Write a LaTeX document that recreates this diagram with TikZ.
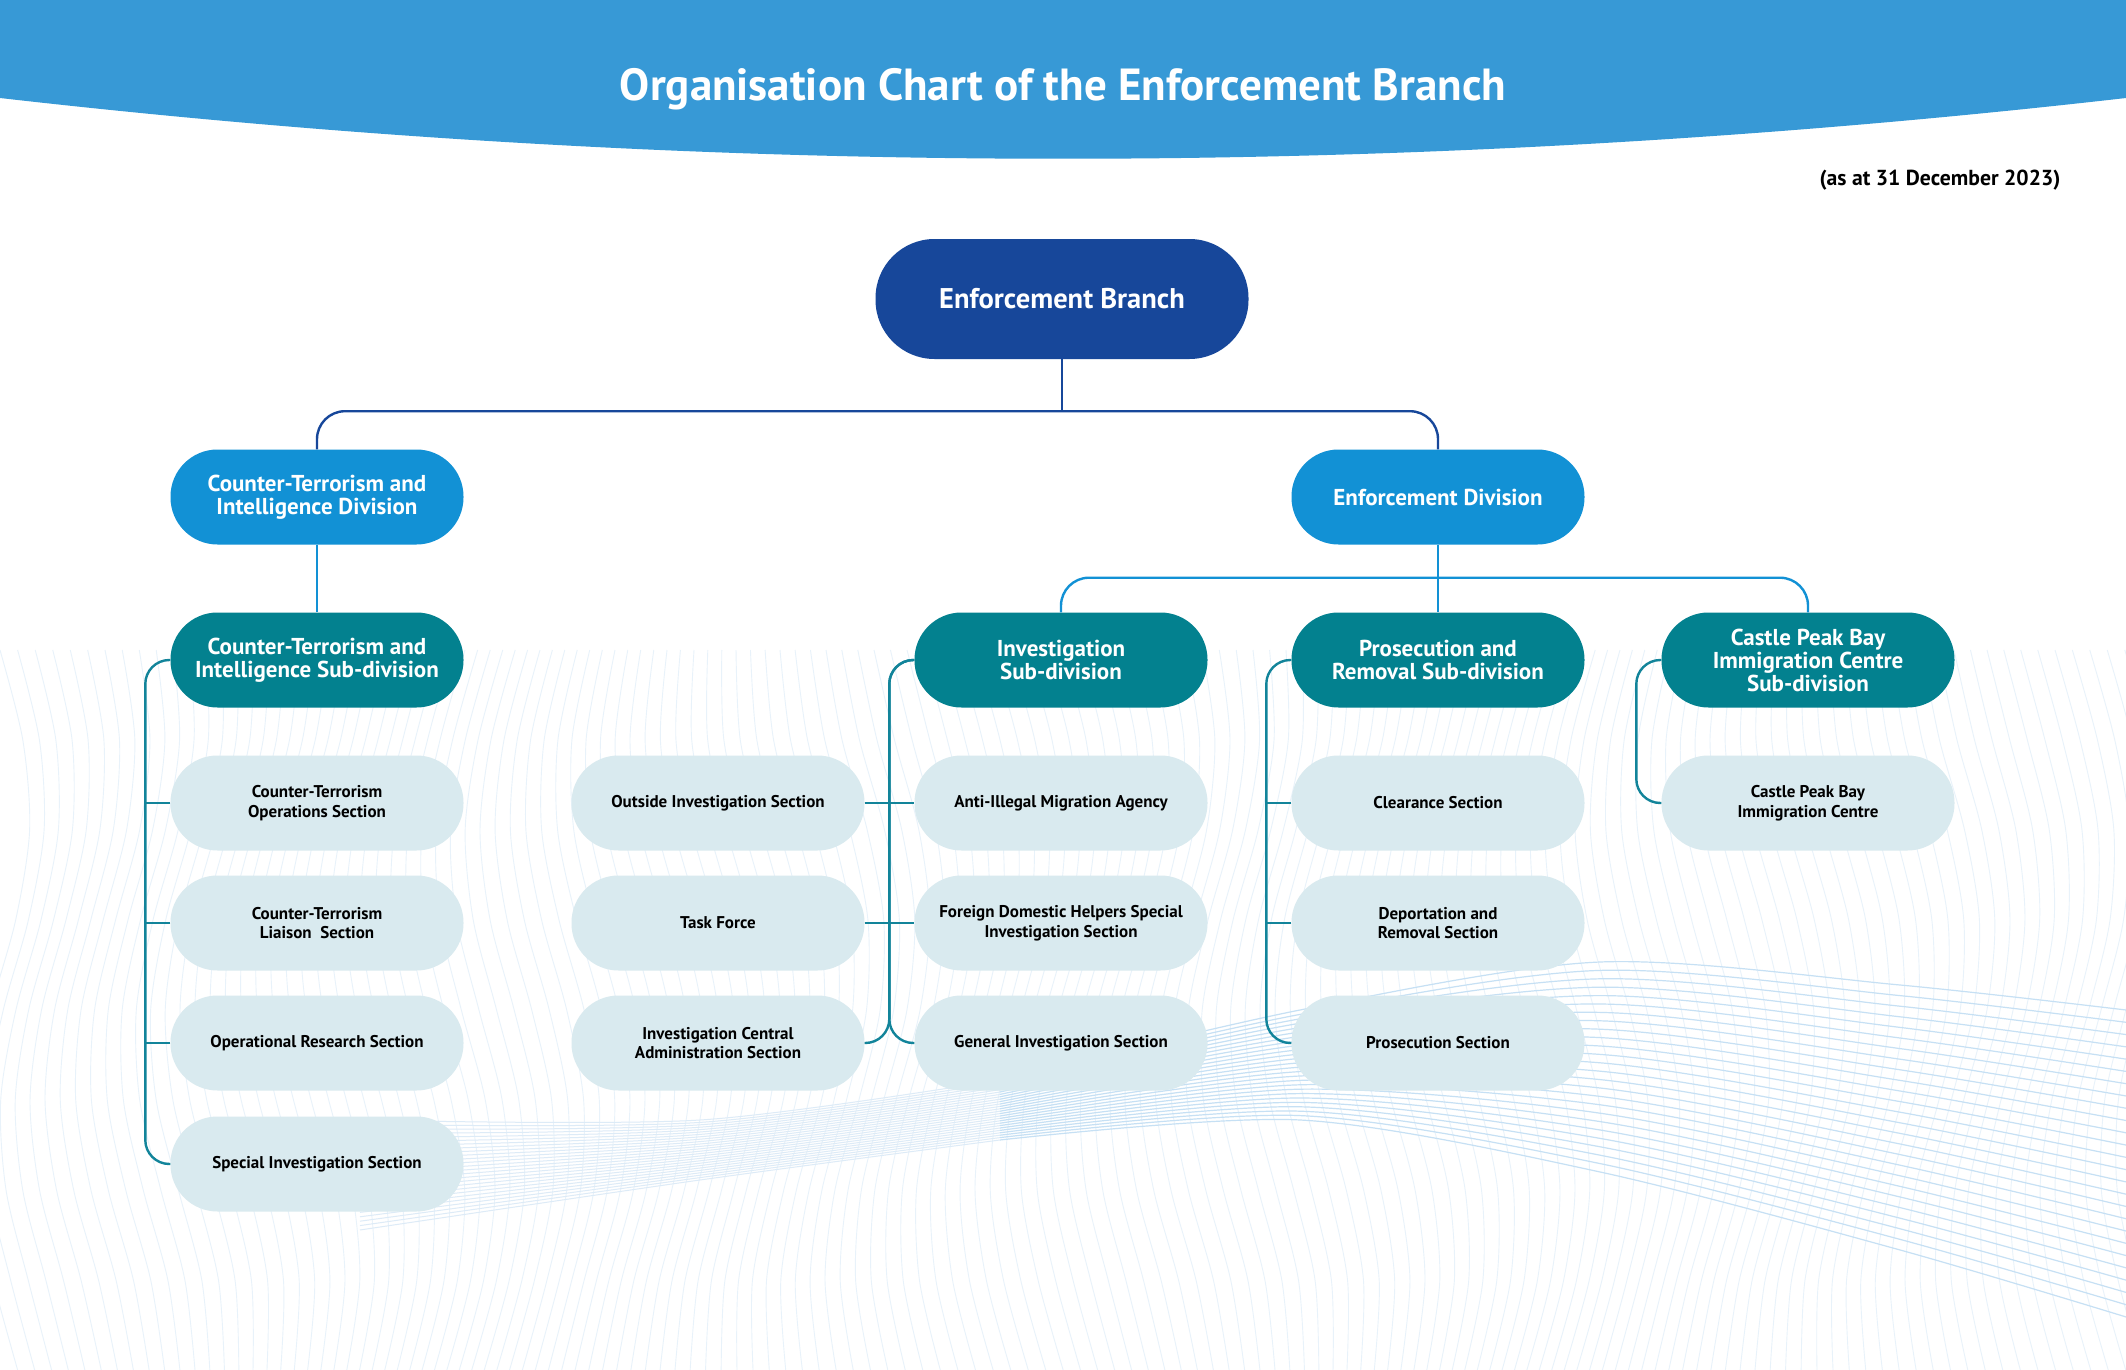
\documentclass[tikz,border=0pt]{standalone}
\usepackage{fontspec}
\setmainfont{PT Sans}
\usetikzlibrary{calc}
\definecolor{hdr}{HTML}{3799D6}
\definecolor{ebblue}{HTML}{17479A}
\definecolor{divblue}{HTML}{1291D5}
\definecolor{subteal}{HTML}{03818F}
\definecolor{secfill}{HTML}{D9EAEF}
\definecolor{lteal}{HTML}{12849A}
\definecolor{wavev}{HTML}{E8F2FA}
\definecolor{waveh}{HTML}{C6E0F4}
\definecolor{wavel}{HTML}{DDEBF7}
\tikzset{
  pill/.style={rectangle, rounded corners=47pt, minimum width=293pt, minimum height=95pt, align=center, inner sep=0pt},
  divbox/.style={pill, fill=divblue, text=white, font=\bfseries\fontsize{23}{23}\selectfont},
  subbox/.style={pill, fill=subteal, text=white, font=\bfseries\fontsize{23}{23}\selectfont},
  secbox/.style={pill, fill=secfill, text=black, font=\bfseries\fontsize{17}{19.5}\selectfont},
  ebline/.style={draw=ebblue, line width=2.4pt, rounded corners=28pt},
  divline/.style={draw=divblue, line width=2.4pt, rounded corners=28pt},
  secline/.style={draw=lteal, line width=2.4pt, rounded corners=24pt},
}
\begin{document}
\begin{tikzpicture}[x=1pt,y=-1pt]
\useasboundingbox (0,0) rectangle (2126,1370);
\fill[white] (0,0) rectangle (2126,1370);
% background waves
\foreach \i in {0,...,145} {
  \draw[wavev, line width=0.9pt] plot[smooth, domain=650:1370, samples=9, variable=\y]
    ({\i*15 + 30*sin((\y-650)*0.55 + \i*5)}, \y);
}
\foreach \t in {0,0.04,...,1.001} {
  \draw[wavel, line width=1pt] plot[smooth] coordinates {
    (360,{1120+110*\t}) (700,{1120+60*\t}) (1000,{1080+60*\t})};
  \draw[waveh, line width=1.2pt] plot[smooth] coordinates {
    (1000,{1080+60*\t}) (1300,{1010+110*\t})
    (1600,{962+210*\t}) (1900,{985+265*\t}) (2126,{1010+307*\t})};
}
% header
\fill[hdr] (0,0) -- (2126,0) -- (2126,98) .. controls (1417,179) and (709,179) .. (0,98) -- cycle;
\node[text=white, font=\bfseries\fontsize{45}{52}\selectfont] (title) at (1063,89) {Organisation Chart of the Enforcement Branch};
\node[anchor=east, text=black, font=\bfseries\fontsize{21.7}{26}\selectfont] (date) at (2064,180) {(as at 31 December 2023)};
% top
\node[pill, rounded corners=59pt, minimum width=373pt, minimum height=120pt, fill=ebblue, text=white, font=\bfseries\fontsize{28.5}{32}\selectfont] (EB) at (1062,299) {Enforcement Branch};
\node[divbox] (CTID) at (317,497) {Counter-Terrorism and\\Intelligence Division};
\node[divbox] (ED) at (1438,497) {Enforcement Division};
\node[subbox] (CTISD) at (317,660) {Counter-Terrorism and\\Intelligence Sub-division};
\node[subbox] (ISD) at (1061,660) {Investigation\\Sub-division};
\node[subbox] (PRSD) at (1438,660) {Prosecution and\\Removal Sub-division};
\node[subbox] (CPBSD) at (1808,660) {Castle Peak Bay\\Immigration Centre\\Sub-division};
% sections
\node[secbox] (A1) at (317,803) {Counter-Terrorism\\Operations Section};
\node[secbox] (A2) at (317,923) {Counter-Terrorism\\Liaison\ \ Section};
\node[secbox] (A3) at (317,1043) {Operational Research Section};
\node[secbox] (A4) at (317,1164) {Special Investigation Section};
\node[secbox] (O1) at (718,803) {Outside Investigation Section};
\node[secbox] (O2) at (718,923) {Task Force};
\node[secbox] (O3) at (718,1043) {Investigation Central\\Administration Section};
\node[secbox] (I1) at (1061,803) {Anti-Illegal Migration Agency};
\node[secbox] (I2) at (1061,923) {Foreign Domestic Helpers Special\\Investigation Section};
\node[secbox] (I3) at (1061,1043) {General Investigation Section};
\node[secbox] (P1) at (1438,803) {Clearance Section};
\node[secbox] (P2) at (1438,923) {Deportation and\\Removal Section};
\node[secbox] (P3) at (1438,1043) {Prosecution Section};
\node[secbox] (C1) at (1808,803) {Castle Peak Bay\\Immigration Centre};
% connectors level 1
\coordinate (bus1) at ($(EB.south)+(0,52)$);
\draw[ebline] (EB.south) -- (bus1);
\draw[ebline] (CTID.north) |- (bus1) -| (ED.north);
% level 2
\draw[divline] (CTID.south) -- (CTISD.north);
\coordinate (bus2) at ($(ED.south)+(0,33)$);
\draw[divline] (ISD.north) |- (bus2) -| (CPBSD.north);
\draw[divline] (ED.south) -- (PRSD.north);
% sections
\draw[secline] (CTISD.west) -- ++(-25,0) |- (A4.west);
\draw[secline] (A1.west) -- ++(-25,0);
\draw[secline] (A2.west) -- ++(-25,0);
\draw[secline] (A3.west) -- ++(-25,0);
\draw[secline] (ISD.west) -- ++(-25,0) |- (O3.east);
\draw[secline] (ISD.west) -- ++(-25,0) |- (I3.west);
\draw[secline] (O1.east) -- (I1.west);
\draw[secline] (O2.east) -- (I2.west);
\draw[secline] (PRSD.west) -- ++(-25,0) |- (P3.west);
\draw[secline] (P1.west) -- ++(-25,0);
\draw[secline] (P2.west) -- ++(-25,0);
\draw[secline] (CPBSD.west) -- ++(-25,0) |- (C1.west);
\end{tikzpicture}
\end{document}
